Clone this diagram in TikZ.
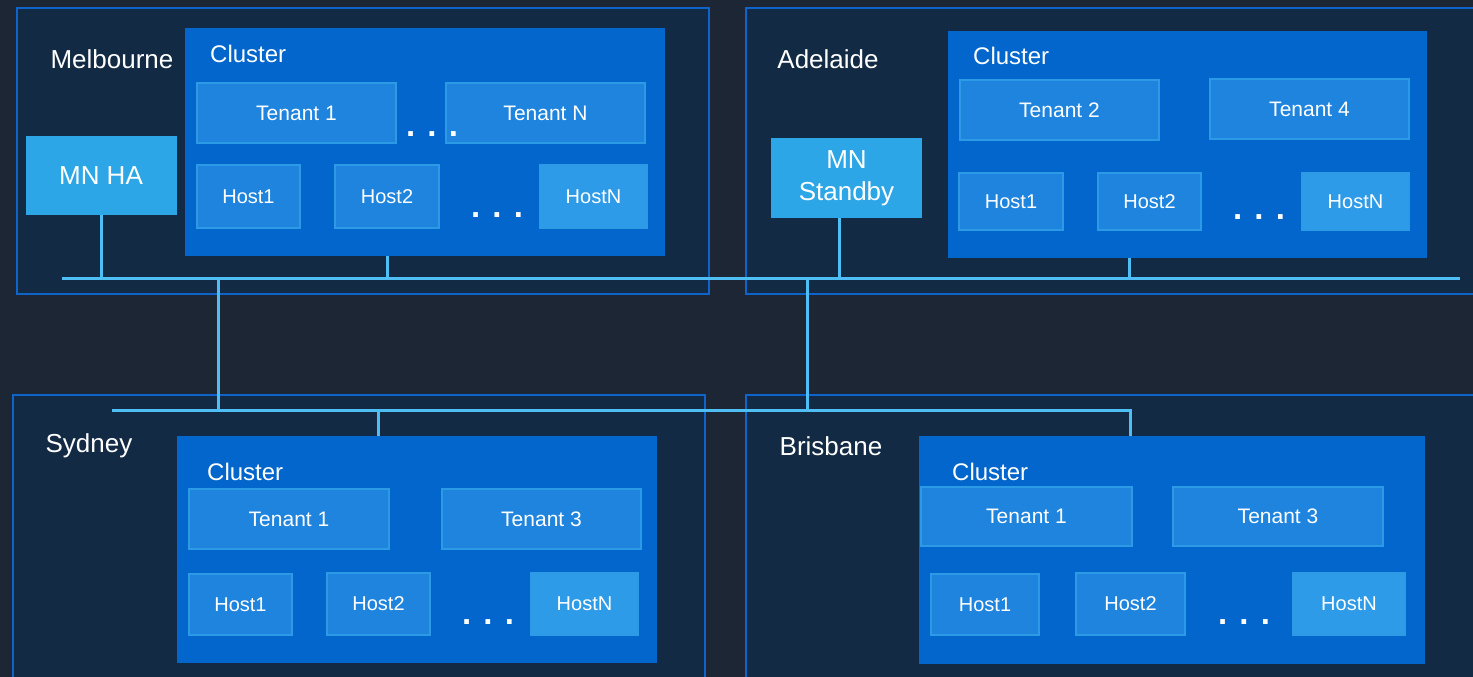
\documentclass[tikz,border=0pt]{standalone}
\usepackage{fontspec}
\setmainfont{Liberation Sans}
\definecolor{fondo}{HTML}{1C2635}
\definecolor{sede}{HTML}{122A44}
\definecolor{bordo}{HTML}{0E64C8}
\definecolor{gruppo}{HTML}{0266CC}
\definecolor{scatola}{HTML}{1E84DE}
\definecolor{orlo}{HTML}{2C9AE4}
\definecolor{ultimo}{HTML}{2E9BE8}
\definecolor{mn}{HTML}{2CA6E6}
\definecolor{cavo}{HTML}{4FBEF5}
\tikzset{
site box/.style={draw=bordo,line width=2pt,fill=sede,inner sep=0pt},
site label/.style={text=white,inner sep=0pt,font=\fontsize{26}{31}\selectfont},
cluster box/.style={fill=gruppo,inner sep=0pt},
cluster label/.style={text=white,inner sep=0pt,anchor=west,font=\fontsize{24}{29}\selectfont},
tenant node/.style={draw=orlo,line width=1.5pt,fill=scatola,text=white,minimum width=199pt,minimum height=60pt,font=\fontsize{21}{25}\selectfont},
host node/.style={draw=orlo,line width=1.5pt,fill=scatola,text=white,minimum width=104pt,minimum height=62pt,font=\fontsize{20}{24}\selectfont},
last host/.style={host node,fill=ultimo,minimum width=107pt},
mn node/.style={fill=mn,text=white,align=center,minimum width=151pt,minimum height=80pt,font=\fontsize{26}{32}\selectfont},
puntini/.style={text=white,inner sep=0pt,font=\bfseries\fontsize{33}{33}\selectfont},
linea/.style={draw=cavo,line width=3pt,line join=miter}}
\begin{document}
\begin{tikzpicture}[x=1pt,y=-1pt]

\clip (0,0) rectangle (1473,677);
\fill[fondo] (0,0) rectangle (1473,677);

% sites
\node[site box,minimum width=692pt,minimum height=286pt] (mel) at (363,151) {};
\node[site box,minimum width=734pt,minimum height=286pt] (ade) at (1113,151) {};
\node[site box,minimum width=692pt,minimum height=295pt] (syd) at (359,542.5) {};
\node[site box,minimum width=734pt,minimum height=295pt] (bri) at (1113,542.5) {};

\node[site label] (melname) at (112,59) {Melbourne};
\node[site label] (adename) at (828,59) {Adelaide};
\node[site label] (sydname) at (89,446) {Sydney};
\node[site label] (briname) at (831,446) {Brisbane};

% Melbourne
\node[cluster box,minimum width=480pt,minimum height=228pt] (melc) at (425,142) {};
\node[cluster label] (melct) at (210,54) {Cluster};
\node[tenant node] (melt1) at (296.5,113) {Tenant 1};
\node[tenant node] (meltn) at (545.5,113) {Tenant N};
\node[puntini] (meld1) at (432,134) {. . .};
\node[host node,minimum width=103pt,minimum height=63pt] (melh1) at (248.5,196.5) {Host1};
\node[host node,minimum height=63pt] (melh2) at (387,196.5) {Host2};
\node[last host,minimum height=63pt] (melhn) at (593.5,196.5) {HostN};
\node[puntini] (meld2) at (497,215) {. . .};
\node[mn node,minimum height=79pt] (mnha) at (101,175.5) {MN HA};

% Adelaide
\node[cluster box,minimum width=479pt,minimum height=227pt] (adec) at (1187.5,144.5) {};
\node[cluster label] (adect) at (973,56) {Cluster};
\node[tenant node] (adet2) at (1059.5,110) {Tenant 2};
\node[tenant node] (adet4) at (1309.5,109) {Tenant 4};
\node[host node,minimum height=57pt] (adeh1) at (1011,201.5) {Host1};
\node[host node,minimum width=103pt,minimum height=57pt] (adeh2) at (1149.5,201.5) {Host2};
\node[last host,minimum height=57pt] (adehn) at (1355.5,201.5) {HostN};
\node[puntini] (aded) at (1259,217) {. . .};
\node[mn node] (mnsb) at (846.5,178) {MN\\Standby};

% Sydney
\node[cluster box,minimum width=480pt,minimum height=227pt] (sydc) at (417,549.5) {};
\node[cluster label] (sydct) at (207,472) {Cluster};
\node[tenant node,minimum width=200pt] (sydt1) at (289,519) {Tenant 1};
\node[tenant node] (sydt3) at (541.5,519) {Tenant 3};
\node[host node,minimum width=103pt,minimum height=61pt] (sydh1) at (240.5,604.5) {Host1};
\node[host node,minimum width=103pt] (sydh2) at (378.5,604) {Host2};
\node[last host] (sydhn) at (584.5,604) {HostN};
\node[puntini] (sydd) at (488,622) {. . .};

% Brisbane
\node[cluster box,minimum width=506pt,minimum height=228pt] (bric) at (1172,550) {};
\node[cluster label] (brict) at (952,472) {Cluster};
\node[tenant node,minimum width=211pt,minimum height=59pt] (brit1) at (1026.5,516.5) {Tenant 1};
\node[tenant node,minimum width=210pt,minimum height=59pt] (brit3) at (1278,516.5) {Tenant 3};
\node[host node,minimum width=108pt,minimum height=61pt] (brih1) at (985,604.5) {Host1};
\node[host node,minimum width=109pt] (brih2) at (1130.5,604) {Host2};
\node[last host,minimum width=112pt] (brihn) at (1349,604) {HostN};
\node[puntini] (brid) at (1244,622) {. . .};

% network
\coordinate (bus1a) at (62,278);
\coordinate (bus1b) at (1460,278);
\coordinate (bus2a) at (112,410);
\coordinate (bus2b) at (1130,410);
\coordinate (j1) at (387,278);
\coordinate (j2) at (1129,278);
\coordinate (j3) at (218,278);
\coordinate (j4) at (807,278);
\coordinate (j5) at (378,410);

\path[linea] (bus1a) edge (bus1b);
\draw[linea] (mnha.south) -- (mnha.south |- bus1a);
\draw[linea] (mnsb.south -| 839,0) -- (839,278);
\draw[linea] (j1 |- melc.south) -- (j1);
\draw[linea] (j2 |- adec.south) -- (j2);
\draw[linea] (j3) -- (j3 |- bus2a);
\draw[linea] (j4) -- (j4 |- bus2a);
\draw[linea] (bus2a) -- (bus2b) -- (bus2b |- bric.north);
\draw[linea] (j5) -- (j5 |- sydc.north);

\end{tikzpicture}
\end{document}
